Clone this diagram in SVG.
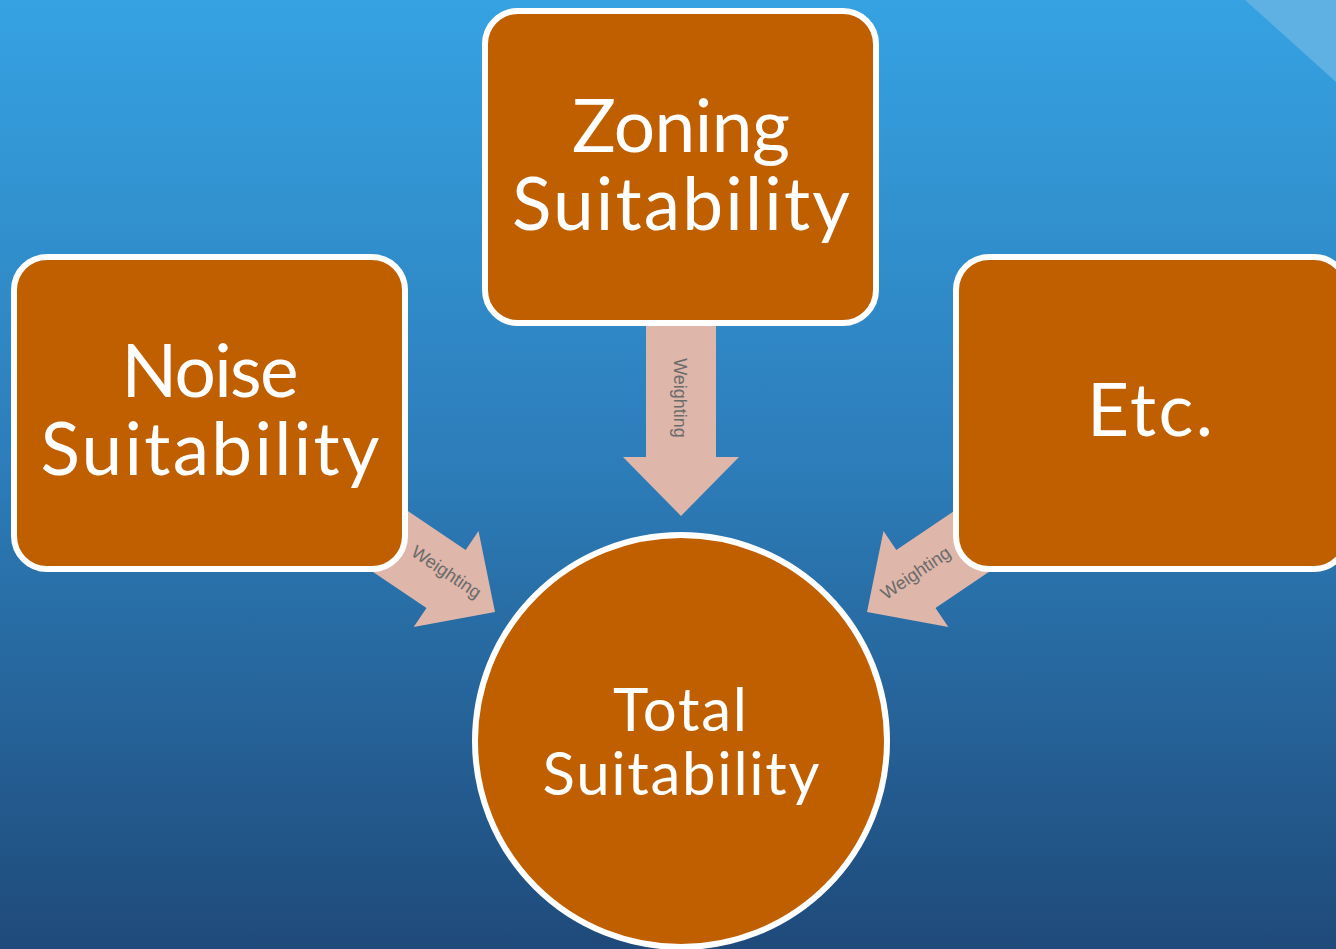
<svg xmlns="http://www.w3.org/2000/svg" width="1336" height="949" viewBox="0 0 1336 949">
<defs>
<linearGradient id="bg" x1="0" y1="0" x2="0" y2="1">
<stop offset="0" stop-color="#36a2e2"/>
<stop offset="0.5" stop-color="#2c7cb8"/>
<stop offset="1" stop-color="#1f4a7a"/>
</linearGradient>
<path id="arr" d="M0,0 L-59,-58 L-59,-35 L-192,-35 L-192,35 L-59,35 L-59,58 Z"/>
</defs>
<style>
.box{fill:#c05f00;stroke:#fff;stroke-width:6}
.big{font-family:Lato,"Open Sans",sans-serif;font-size:73px;fill:#fff;text-anchor:middle}
.mid{font-family:Lato,"Open Sans",sans-serif;font-size:60px;fill:#fff;text-anchor:middle}
.arrow{fill:#dfb6aa}
.lbl{font-family:"Liberation Sans",Arial,sans-serif;font-size:18px;fill:#6b6b6b;text-anchor:middle}
</style>
<rect width="1336" height="949" fill="url(#bg)"/>
<polygon points="1245,0 1336,0 1336,82" fill="#5fb1e4"/>
<g id="connectors">
<use href="#arr" class="arrow" transform="translate(681,516) rotate(90)"/>
<use href="#arr" class="arrow" transform="translate(495,612) rotate(34)"/>
<use href="#arr" class="arrow" transform="translate(867,612) rotate(146)"/>
<text class="lbl" transform="translate(674,398) rotate(90)">Weighting</text>
<text class="lbl" transform="translate(443,577) rotate(34)">Weighting</text>
<text class="lbl" transform="translate(919,578) rotate(-34)">Weighting</text>
</g>
<g id="zoning">
<rect class="box" x="485" y="11" width="391" height="312" rx="33"/>
<text class="big" x="681" y="152" textLength="218" lengthAdjust="spacing">Zoning</text>
<text class="big" x="681" y="230" textLength="338" lengthAdjust="spacing">Suitability</text>
</g>
<g id="noise">
<rect class="box" x="14" y="257" width="391" height="312" rx="33"/>
<text class="big" x="210" y="397" textLength="177" lengthAdjust="spacing">Noise</text>
<text class="big" x="210" y="475" textLength="339" lengthAdjust="spacing">Suitability</text>
</g>
<g id="etc">
<rect class="box" x="956" y="257" width="391" height="312" rx="33"/>
<text class="big" x="1150" y="436" textLength="126" lengthAdjust="spacing">Etc.</text>
</g>
<g id="total">
<circle class="box" cx="681" cy="741" r="206"/>
<text class="mid" x="680" y="731" textLength="134" lengthAdjust="spacing">Total</text>
<text class="mid" x="681" y="795" textLength="277" lengthAdjust="spacing">Suitability</text>
</g>
</svg>
